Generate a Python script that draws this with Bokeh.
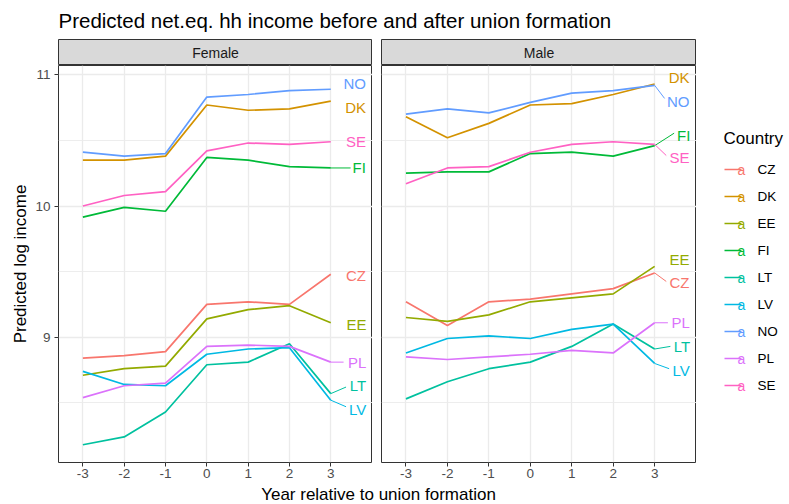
from bokeh.plotting import figure
from bokeh.layouts import row, column
from bokeh.models import Range1d, FixedTicker, ColumnDataSource
from bokeh.core.properties import value
from bokeh.embed import file_html
from bokeh.resources import INLINE

FONT = "Liberation Sans"

title_text = "Predicted net.eq. hh income before and after union formation"
x_title = "Year relative to union formation"
y_title = "Predicted log income"
legend_title = "Country"
panels = ["Female", "Male"]

years = [-3, -2, -1, 0, 1, 2, 3]
year_labels = ["-3", "-2", "-1", "0", "1", "2", "3"]
y_ticks = [9, 10, 11]
y_labels = ["9", "10", "11"]
y_minor = [8.5, 9.5, 10.5]
countries = ["CZ", "DK", "EE", "FI", "LT", "LV", "NO", "PL", "SE"]
colors = ["#F8766D", "#D39200", "#93AA00", "#00BA38", "#00C19F",
          "#00B9E3", "#619CFF", "#DB72FB", "#FF61C3"]

# Female series
f_CZ = [8.84, 8.86, 8.89, 9.25, 9.27, 9.25, 9.48]
f_DK = [10.35, 10.35, 10.38, 10.77, 10.73, 10.74, 10.80]
f_EE = [8.71, 8.76, 8.78, 9.14, 9.21, 9.24, 9.11]
f_FI = [9.915, 9.99, 9.96, 10.37, 10.35, 10.30, 10.29]
f_LT = [8.18, 8.24, 8.43, 8.79, 8.81, 8.95, 8.57]
f_LV = [8.74, 8.64, 8.63, 8.87, 8.91, 8.92, 8.52]
f_NO = [10.41, 10.38, 10.40, 10.83, 10.85, 10.88, 10.89]
f_PL = [8.54, 8.63, 8.65, 8.93, 8.94, 8.93, 8.81]
f_SE = [10.00, 10.08, 10.11, 10.42, 10.48, 10.47, 10.49]

# Male series
m_CZ = [9.27, 9.09, 9.27, 9.29, 9.33, 9.37, 9.49]
m_DK = [10.68, 10.52, 10.63, 10.77, 10.78, 10.85, 10.93]
m_EE = [9.15, 9.12, 9.17, 9.27, 9.30, 9.33, 9.54]
m_FI = [10.25, 10.26, 10.26, 10.40, 10.41, 10.38, 10.46]
m_LT = [8.53, 8.66, 8.76, 8.81, 8.93, 9.10, 8.91]
m_LV = [8.88, 8.99, 9.01, 8.99, 9.06, 9.10, 8.80]
m_NO = [10.70, 10.74, 10.71, 10.79, 10.86, 10.88, 10.92]
m_PL = [8.85, 8.83, 8.85, 8.87, 8.90, 8.88, 9.11]
m_SE = [10.17, 10.29, 10.30, 10.41, 10.47, 10.49, 10.47]

# repelled label anchors (data units), order as countries
f_lab_x = [3.61, 3.60, 3.62, 3.69, 3.66, 3.65, 3.58, 3.64, 3.61]
f_lab_y = [9.47, 10.75, 9.10, 10.29, 8.63, 8.45, 10.93, 8.81, 10.49]
f_seg_x = [None, None, None, 3.48, 3.37, 3.37, None, 3.31, None]
f_seg_y = [None, None, None, 10.29, 8.62, 8.47, None, 8.81, None]

m_lab_x = [3.60, 3.59, 3.60, 3.70, 3.66, 3.64, 3.57, 3.63, 3.60]
m_lab_y = [9.42, 10.98, 9.59, 10.54, 8.93, 8.75, 10.80, 9.11, 10.37]
m_seg_x = [3.28, None, None, 3.47, 3.38, 3.35, 3.24, 3.32, 3.28]
m_seg_y = [9.425, None, None, 10.555, 8.93, 8.76, 10.82, 9.11, 10.385]

female = [f_CZ, f_DK, f_EE, f_FI, f_LT, f_LV, f_NO, f_PL, f_SE]
male = [m_CZ, m_DK, m_EE, m_FI, m_LT, m_LV, m_NO, m_PL, m_SE]

XR = (-3.59, 4.01)
YR = (8.045, 11.071)


def blank(width, height, xr, yr, left=0):
    p = figure(width=width, height=height, x_range=Range1d(*xr), y_range=Range1d(*yr),
               output_backend="svg", toolbar_location=None,
               x_axis_location=None, y_axis_location=None,
               min_border_left=left, min_border_right=0,
               min_border_top=0, min_border_bottom=0)
    p.grid.visible = False
    p.outline_line_color = None
    p.border_fill_color = "white"
    p.background_fill_color = "white"
    return p


def strip(name, width, left):
    p = blank(width, 26, (0, 1), (0, 1), left=left)
    p.background_fill_color = "#d9d9d9"
    p.outline_line_color = "#333333"
    p.outline_line_width = 1
    p.text(x=[0.5], y=[0.5], text=[name], text_font=value(FONT), text_font_size="14px",
           text_color="#1a1a1a", text_align="center", text_baseline="middle")
    return p


def panel(series, lab_x, lab_y, seg_x, seg_y, width, left, show_y):
    p = figure(width=width, height=420, x_range=Range1d(*XR), y_range=Range1d(*YR),
               output_backend="svg", toolbar_location=None,
               y_axis_location="left" if show_y else None,
               min_border_left=left, min_border_right=0,
               min_border_top=0, min_border_bottom=23)
    p.background_fill_color = "white"
    p.border_fill_color = "white"
    p.outline_line_color = "#333333"
    p.outline_line_width = 1

    p.xgrid.ticker = FixedTicker(ticks=years)
    p.xgrid.grid_line_color = "#ebebeb"
    p.xgrid.grid_line_width = 1.3
    p.ygrid.ticker = FixedTicker(ticks=y_ticks, minor_ticks=y_minor)
    p.ygrid.grid_line_color = "#ebebeb"
    p.ygrid.grid_line_width = 1.3
    p.ygrid.minor_grid_line_color = "#ebebeb"
    p.ygrid.minor_grid_line_width = 0.9

    p.xaxis.ticker = FixedTicker(ticks=years)
    p.xaxis.major_label_overrides = {k: v for k, v in zip(years, year_labels)}
    p.xaxis.axis_line_color = None
    p.xaxis.major_tick_line_color = "#333333"
    p.xaxis.major_tick_out = 4
    p.xaxis.major_tick_in = 0
    p.xaxis.minor_tick_line_color = None
    p.xaxis.major_label_text_color = "#4d4d4d"
    p.xaxis.major_label_text_font = FONT
    p.xaxis.major_label_text_font_size = "13.5px"
    p.xaxis.major_label_standoff = 2

    if show_y:
        p.yaxis.ticker = FixedTicker(ticks=y_ticks)
        p.yaxis.major_label_overrides = {k: v for k, v in zip(y_ticks, y_labels)}
        p.yaxis.axis_line_color = None
        p.yaxis.major_tick_line_color = "#333333"
        p.yaxis.major_tick_out = 4
        p.yaxis.major_tick_in = 0
        p.yaxis.minor_tick_line_color = None
        p.yaxis.major_label_text_color = "#4d4d4d"
        p.yaxis.major_label_text_font = FONT
        p.yaxis.major_label_text_font_size = "13.5px"
        p.yaxis.major_label_standoff = 4
        p.yaxis.axis_label = y_title
        p.yaxis.axis_label_text_font = FONT
        p.yaxis.axis_label_text_font_size = "17px"
        p.yaxis.axis_label_text_font_style = "normal"
        p.yaxis.axis_label_text_color = "black"
        p.yaxis.axis_label_standoff = 2

    for vals, col in zip(series, colors):
        p.line(years, vals, line_color=col, line_width=1.7)

    sx0, sy0, sx1, sy1, sc = [], [], [], [], []
    for vals, col, ex, ey in zip(series, colors, seg_x, seg_y):
        if ex is not None:
            sx0.append(years[-1]); sy0.append(vals[-1])
            sx1.append(ex); sy1.append(ey); sc.append(col)
    p.segment(x0=sx0, y0=sy0, x1=sx1, y1=sy1, line_color=sc, line_width=1)

    src = ColumnDataSource(dict(x=lab_x, y=lab_y, t=countries, c=colors))
    p.text(x="x", y="y", text="t", text_color="c", source=src,
           text_font=value(FONT), text_font_size="15px",
           text_align="center", text_baseline="middle")
    return p


# header with main title
header = blank(789, 39, (0, 789), (39, 0))
header.text(x=[58], y=[20], text=[title_text], text_font=value(FONT), text_font_size="20.5px",
            text_color="black", text_align="left", text_baseline="middle")

# footer with x axis title
footer = blank(789, 19, (0, 789), (19, 0))
footer.text(x=[378], y=[9], text=[x_title], text_font=value(FONT), text_font_size="17px",
            text_color="black", text_align="center", text_baseline="middle")

left_strip = strip(panels[0], 372, 58)
right_strip = strip(panels[1], 324, 9)
left_panel = panel(female, f_lab_x, f_lab_y, f_seg_x, f_seg_y, 372, 58, True)
right_panel = panel(male, m_lab_x, m_lab_y, m_seg_x, m_seg_y, 324, 9, False)

# legend
n = len(countries)
leg = blank(93, 446, (0, 93), (446, 0))
leg.text(x=[27], y=[99], text=[legend_title], text_font=value(FONT), text_font_size="17px",
         text_color="black", text_align="left", text_baseline="middle")
ly = [130 + 27 * i for i in range(n)]
leg.segment(x0=[28] * n, y0=ly, x1=[45] * n, y1=ly, line_color=colors, line_width=1.6)
leg.text(x=[45] * n, y=ly, text=["a"] * n, text_color=colors,
         text_font=value(FONT), text_font_size="14px", text_align="center",
         text_baseline="middle")
leg.text(x=[61] * n, y=ly, text=countries, text_color="black",
         text_font=value(FONT), text_font_size="13.5px", text_align="left",
         text_baseline="middle")

layout = column(header,
                row(column(left_strip, left_panel), column(right_strip, right_panel), leg),
                footer)

open("out.html", "w").write(file_html(layout, INLINE))
